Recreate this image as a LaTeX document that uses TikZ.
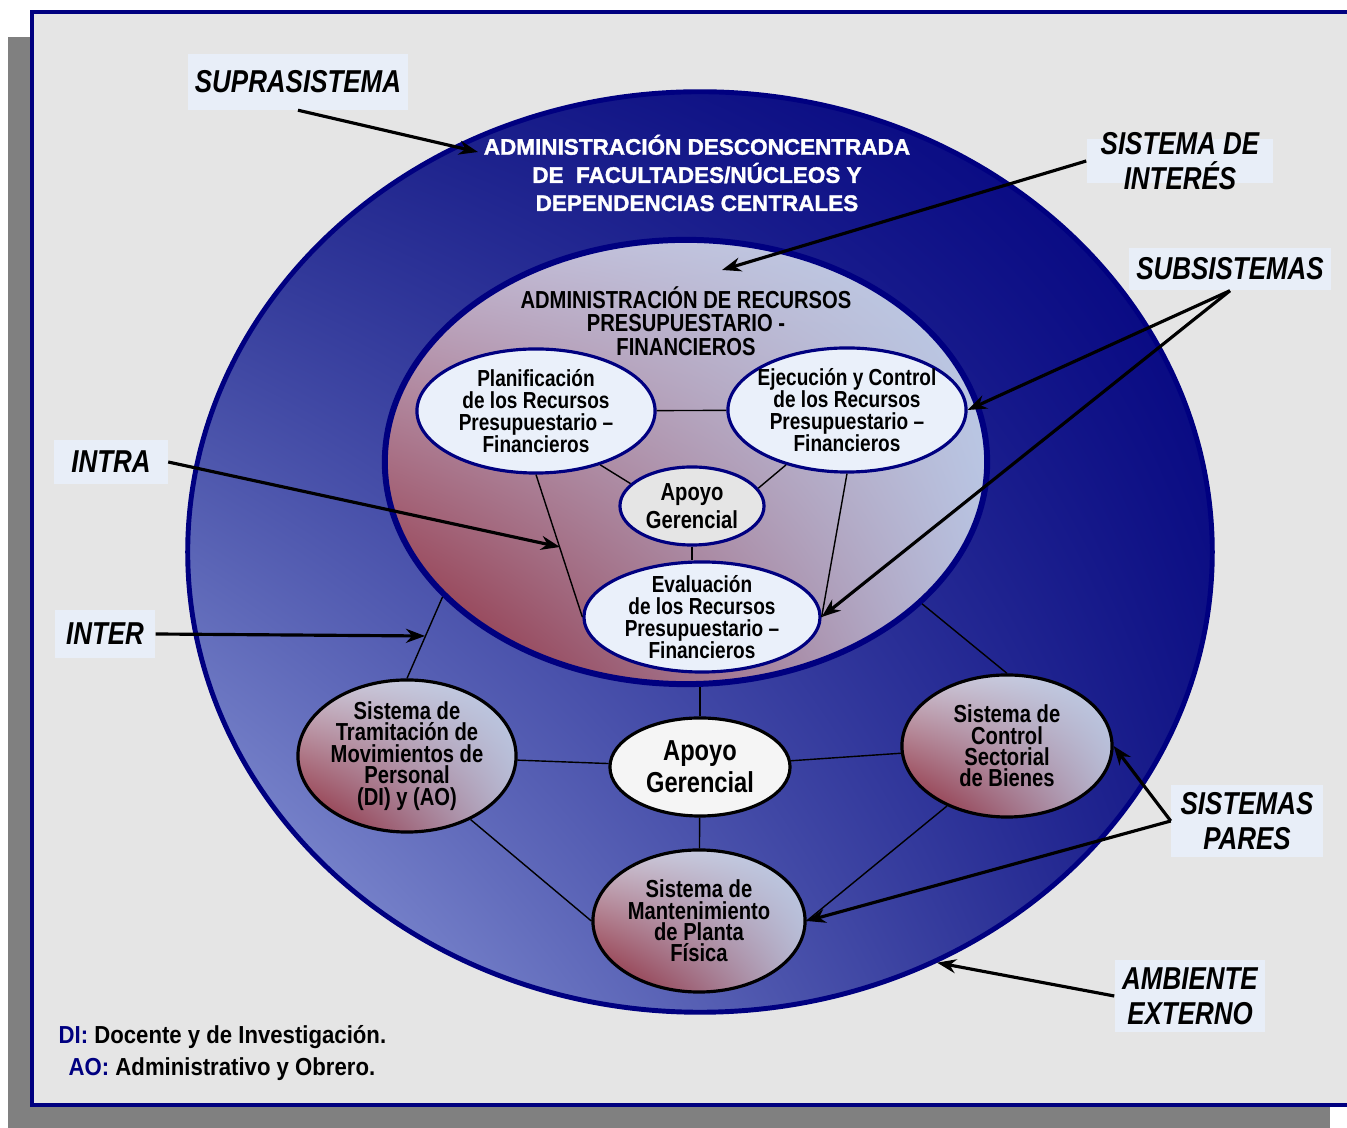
\documentclass[tikz,border=0pt]{standalone}
\usepackage{fontspec}
\setmainfont{Liberation Sans}
\newfontfamily\narrowsf[FakeStretch=0.82]{Liberation Sans}
\newfontfamily\legendsf[FakeStretch=0.9]{Liberation Sans}
\newfontfamily\heavysf[BoldFeatures={FakeBold=1.6}]{Liberation Sans}
\usetikzlibrary{shapes.geometric,shadings,arrows.meta}

\definecolor{navy}{HTML}{000080}
\definecolor{panel}{HTML}{E5E5E5}
\definecolor{shadowgray}{HTML}{808080}
\definecolor{tagfill}{HTML}{E8EEF8}
\definecolor{paleblue}{HTML}{BCCDE8}
\definecolor{winered}{HTML}{8B2030}
\definecolor{bubble}{HTML}{EAF0FA}

\begin{document}
\begin{tikzpicture}[x=0.01cm, y=-0.01cm,
	tag/.style={
		fill=tagfill, inner xsep=0.07cm, inner ysep=0.06cm,
		font=\narrowsf\bfseries\itshape\fontsize{9}{10}\selectfont, align=center
	},
	sub/.style={
		ellipse, draw=navy, line width=0.9pt, fill=bubble, inner sep=-0.08cm,
		font=\narrowsf\bfseries\fontsize{6.6}{6.3}\selectfont, align=center
	},
	peer/.style={
		ellipse, draw=black, line width=0.9pt, inner sep=-0.08cm,
		shade, shading=bilinear interpolation,
		lower left=winered, upper right=paleblue,
		upper left=paleblue!75!winered!60!white, lower right=paleblue!85!winered,
		font=\narrowsf\bfseries\fontsize{7}{6.1}\selectfont, align=center
	},
	link/.style={draw, thin},
	arrow/.style={draw, line width=0.9pt, -{Stealth[length=0.19cm, width=0.14cm]}},
	]
	\useasboundingbox (0,0) rectangle (1347,1128);
	\fill[shadowgray] (8,37) rectangle (1330,1140);
	\draw[navy, line width=1.1pt, fill=panel] (32,12) rectangle (1380,1105);

	% ambiente / suprasistema
	\node[ellipse, draw=navy, line width=1.4pt, minimum width=10.24cm, minimum height=9.2cm,
		shade, shading=bilinear interpolation,
		lower left={rgb,255:red,150;green,164;blue,224}, upper left={rgb,255:red,32;green,38;blue,140},
		upper right=navy, lower right={rgb,255:red,24;green,28;blue,136}] (supra) at (700,552) {};
	\node[text=white, font=\heavysf\bfseries\fontsize{6.4}{8}\selectfont, align=center] (supratitle)
		at (697,173) {ADMINISTRACIÓN DESCONCENTRADA\\DE \ FACULTADES/NÚCLEOS Y\\DEPENDENCIAS CENTRALES};

	% sistema de interes
	\node[ellipse, draw=navy, line width=1.7pt, minimum width=6.02cm, minimum height=4.44cm,
		shade, shading=bilinear interpolation,
		lower left=winered, upper right=paleblue,
		upper left={rgb,255:red,196;green,186;blue,212}, lower right={rgb,255:red,182;green,190;blue,222}] (interest) at (686,462) {};
	\node[font=\narrowsf\bfseries\fontsize{7}{6.7}\selectfont, align=center] (interesttitle)
		at (686,321) {ADMINISTRACIÓN DE RECURSOS\\PRESUPUESTARIO -\\FINANCIEROS};

	% subsistemas
	\node[sub, minimum width=2.38cm, minimum height=1.24cm] (plan) at (536,411)
		{Planificación\\de los Recursos\\Presupuestario –\\Financieros};
	\node[sub, minimum width=2.38cm, minimum height=1.24cm] (ejec) at (847,410)
		{Ejecución y Control\\de los Recursos\\Presupuestario –\\Financieros};
	\node[sub, fill=panel, minimum width=1.44cm, minimum height=0.78cm,
		font=\narrowsf\bfseries\fontsize{7}{8}\selectfont] (hub) at (692,506) {Apoyo\\Gerencial};
	\node[sub, minimum width=2.36cm, minimum height=1.10cm] (eval) at (702,617)
		{Evaluación\\de los Recursos\\Presupuestario –\\Financieros};

	\path[link] (plan) -- (ejec);
	\path[link] (plan.-40) -- (hub.160);
	\path[link] (ejec.-138) -- (hub.15);
	\path[link] (hub.south) -- (hub.south |- eval.north);
	\path[link] (plan.south) -- (eval.west);
	\path[link] (ejec.south) -- (eval.east);

	% sistemas pares
	\node[peer, minimum width=2.18cm, minimum height=1.52cm] (trami) at (407,756)
		{Sistema de\\Tramitación de\\Movimientos de\\Personal\\(DI) y (AO)};
	\node[peer, minimum width=2.10cm, minimum height=1.42cm] (control) at (1007,746)
		{Sistema de\\Control\\Sectorial\\de Bienes};
	\node[peer, minimum width=2.12cm, minimum height=1.42cm] (mant) at (699,921)
		{Sistema de\\Mantenimiento\\de Planta\\Física};
	\node[ellipse, draw=black, line width=0.9pt, fill=white!60!panel, inner sep=-0.08cm,
		minimum width=1.80cm, minimum height=0.98cm, align=center,
		font=\narrowsf\bfseries\fontsize{8.2}{9.1}\selectfont] (support) at (700,767) {Apoyo\\Gerencial};

	\path[link] (support.north) -- (support.north |- interest.south);
	\path[link] (support) -- (mant);
	\path[link] (support) -- (trami);
	\path[link] (support) -- (control);
	\path[link] (trami.-45) -- (mant.west);
	\path[link] (control.-135) -- (mant.east);
	\path[link] (trami.north) -- (interest.-151);
	\path[link] (control.north) -- (interest.-31);

	% etiquetas
	\node[tag, minimum width=2.15cm, minimum height=0.55cm] (supratag) at (298,82) {SUPRASISTEMA};
	\node[tag, minimum width=1.86cm, inner ysep=-0.07cm] (interesttag) at (1180,161) {SISTEMA DE\\INTERÉS};
	\node[tag, minimum width=1.94cm, minimum height=0.42cm] (subtag) at (1230,269) {SUBSISTEMAS};
	\node[tag, minimum width=1.13cm, minimum height=0.44cm] (intratag) at (111,462) {INTRA};
	\node[tag, minimum width=1.00cm, minimum height=0.48cm] (intertag) at (105,634) {INTER};
	\node[tag, minimum width=1.51cm, minimum height=0.72cm] (parestag) at (1247,821) {SISTEMAS\\PARES};
	\node[tag, minimum width=1.50cm, minimum height=0.71cm] (ambtag) at (1190,996) {AMBIENTE\\EXTERNO};

	\coordinate (supraend) at (478,152);
	\coordinate (interestend) at (722,270);
	\coordinate (intraend) at (560,547);
	\coordinate (interend) at (425,636);

	\path[arrow] (supratag.south) -- (supraend);
	\path[arrow] (interesttag.west) -- (interestend);
	\path[arrow] (subtag.south) -- (ejec.east);
	\path[arrow] (subtag.south) -- (eval.east);
	\path[arrow] (intratag.east) -- (intraend);
	\path[arrow] (intertag.east) -- (interend);
	\path[arrow] (parestag.west) -- (control.east);
	\path[arrow] (parestag.west) -- (mant.east);
	\path[arrow] (ambtag.west) -- (supra.-60);

	% leyenda
	\node[anchor=west, inner sep=0pt, font=\legendsf\bfseries\fontsize{7}{9}\selectfont] (legdi)
		at (58,1037) {\textcolor{navy}{DI:} Docente y de Investigación.};
	\node[anchor=west, inner sep=0pt, font=\legendsf\bfseries\fontsize{7}{9}\selectfont] (legao)
		at (68,1069) {\textcolor{navy}{AO:} Administrativo y Obrero.};
\end{tikzpicture}
\end{document}
